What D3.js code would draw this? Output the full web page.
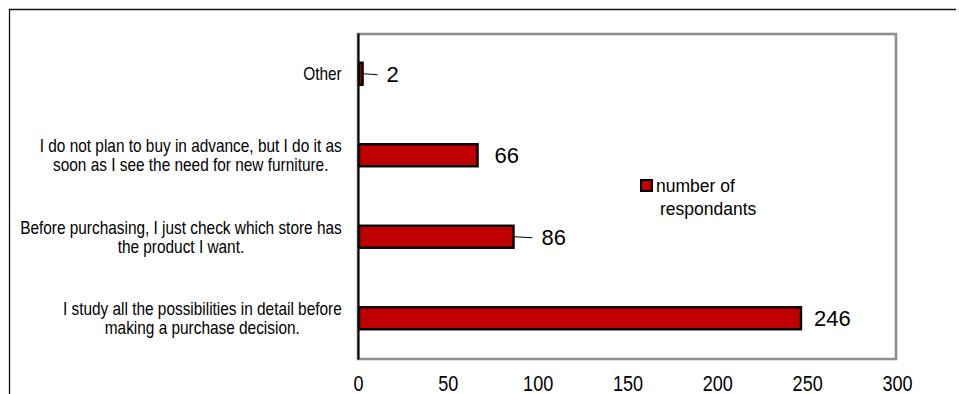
<!DOCTYPE html>
<html>
<head>
<meta charset="utf-8">
<script src="https://cdn.jsdelivr.net/npm/d3@7"></script>
<style>
  body { margin: 0; background: #fff; }
  text { font-family: "Liberation Sans", Arial, sans-serif; fill: #000; }
</style>
</head>
<body>
<div id="chart"></div>
<script>
// Data (top to bottom)
const categories = [
  ['Other'],
  ['I do not plan to buy in advance, but I do it as', 'soon as I see the need for new furniture.'],
  ['Before purchasing, I just check which store has', 'the product I want.'],
  ['I study all the possibilities in detail before', 'making a purchase decision.']
];
const values = [2, 66, 86, 246];
const xTicks = [0, 50, 100, 150, 200, 250, 300];
const seriesName = ['number of', 'respondants'];

// Canvas and plot area
const svgWidth = 959;
const svgHeight = 394;
const plot = { left: 358, top: 33, right: 897, bottom: 359 };
const barColor = '#C00000';

// label gap after the bar end, and which labels get a leader line
const labelGap = [25, 18, 29, 14];
const hasLeader = [true, false, true, false];

const svg = d3.select('#chart')
  .append('svg')
  .attr('width', svgWidth)
  .attr('height', svgHeight);

// outer frame (only top and left edges are visible)
svg.append('line')
  .attr('x1', 9).attr('x2', 956).attr('y1', 9.5).attr('y2', 9.5)
  .attr('stroke', '#111').attr('stroke-width', 1.3);
svg.append('line')
  .attr('x1', 9.5).attr('x2', 9.5).attr('y1', 9).attr('y2', svgHeight)
  .attr('stroke', '#111').attr('stroke-width', 1.3);

// Scales
const keys = categories.map((d, i) => i);
const xScale = d3.scaleLinear()
  .domain([0, 300])
  .range([plot.left, plot.right]);

const yScale = d3.scaleBand()
  .domain(keys)
  .range([plot.top, plot.bottom])
  .paddingInner(0.73)
  .paddingOuter(0.365);

// plot area border
svg.append('rect')
  .attr('x', plot.left)
  .attr('y', plot.top + 1)
  .attr('width', plot.right - plot.left - 1)
  .attr('height', plot.bottom - plot.top - 1)
  .attr('fill', 'none')
  .attr('stroke', '#8f8f8f')
  .attr('stroke-width', 2.6);

// x axis: labels only
const xAxis = d3.axisBottom(xScale)
  .tickValues(xTicks)
  .tickSize(0)
  .tickPadding(16);

const gx = svg.append('g')
  .attr('transform', `translate(0, ${plot.bottom})`)
  .call(xAxis);
gx.select('.domain').remove();
gx.selectAll('text')
  .attr('font-size', 22)
  .attr('font-family', '"Liberation Sans", Arial, sans-serif')
  .attr('fill', '#000')
  .attr('transform', 'scale(0.82,1)');

// y axis with multi-line category labels
const sx = 0.88;
const yAxis = d3.axisLeft(yScale)
  .tickSize(0)
  .tickFormat('');

const gy = svg.append('g')
  .attr('transform', `translate(${plot.left}, 0)`)
  .call(yAxis);
gy.select('.domain')
  .attr('stroke', '#000')
  .attr('stroke-width', 2);

gy.selectAll('.tick').each(function (k) {
  const lines = categories[k];
  const g = d3.select(this);
  g.select('text').remove();
  const t = g.append('text')
    .attr('font-size', 17.5)
    .attr('text-anchor', 'middle')
    .attr('transform', `scale(${sx},1)`);
  t.selectAll('tspan')
    .data(lines)
    .join('tspan')
    .attr('y', (d, i) => (i - (lines.length - 1) / 2) * 19 + 6.5)
    .text(d => d);
  const w = d3.max(t.selectAll('tspan').nodes(), n => n.getComputedTextLength());
  t.selectAll('tspan').attr('x', -16.3 / sx - w / 2);
});

// Bars
const rows = values.map((v, i) => ({ key: i, value: v }));

svg.append('g')
  .selectAll('rect')
  .data(rows)
  .join('rect')
  .attr('x', xScale(0) + 1)
  .attr('y', d => yScale(d.key))
  .attr('width', d => Math.max(xScale(d.value) - xScale(0), 2))
  .attr('height', yScale.bandwidth())
  .attr('fill', barColor)
  .attr('stroke', '#000')
  .attr('stroke-width', 2.4);

// leader lines
svg.append('g')
  .selectAll('line')
  .data(rows.filter(d => hasLeader[d.key]))
  .join('line')
  .attr('x1', d => xScale(d.value) + 2)
  .attr('x2', d => xScale(d.value) + labelGap[d.key] - 9)
  .attr('y1', d => yScale(d.key) + yScale.bandwidth() / 2)
  .attr('y2', d => yScale(d.key) + yScale.bandwidth() / 2 + 1)
  .attr('stroke', '#000')
  .attr('stroke-width', 1);

// value labels
svg.append('g')
  .selectAll('text')
  .data(rows)
  .join('text')
  .attr('x', d => xScale(d.value) + labelGap[d.key])
  .attr('y', d => yScale(d.key) + yScale.bandwidth() / 2)
  .attr('dy', '0.36em')
  .attr('font-size', 22)
  .text(d => d.value);

// Legend
const legend = svg.append('g')
  .attr('transform', 'translate(640, 179)');
legend.append('rect')
  .attr('x', 1).attr('y', 1)
  .attr('width', 11).attr('height', 11)
  .attr('fill', barColor)
  .attr('stroke', '#000')
  .attr('stroke-width', 2);
legend.append('text')
  .attr('font-size', 17.5)
  .selectAll('tspan')
  .data(seriesName)
  .join('tspan')
  .attr('x', (d, i) => i === 0 ? 16 : 20)
  .attr('y', (d, i) => 12.5 + i * 23)
  .text(d => d);
</script>
</body>
</html>
